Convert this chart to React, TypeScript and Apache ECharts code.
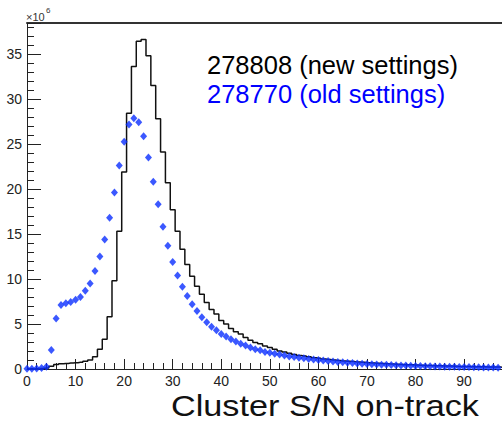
import React, { useEffect, useRef } from "react";
import * as echarts from "echarts";

// Bin contents (x10^6), bins of width 1 centred on 0, 1, 2, ... 98
const newSettings = [
  0.02, 0.02, 0.03, 0.05, 0.12, 0.3, 0.5, 0.58, 0.62, 0.66,
  0.7, 0.75, 0.85, 1.0, 1.35, 2.2, 3.3, 5.8, 9.8, 15.3,
  21.9, 28.4, 33.6, 36.4, 36.6, 34.8, 31.5, 27.8, 24.1, 20.7,
  17.7, 15.3, 13.3, 11.6, 10.3, 9.2, 8.3, 7.4, 6.6, 6.1,
  5.4, 5.0, 4.5, 4.15, 3.9, 3.5, 3.2, 2.95, 2.8, 2.55,
  2.4, 2.2, 2.0, 1.9, 1.75, 1.6, 1.5, 1.45, 1.35, 1.25,
  1.2, 1.1, 1.05, 1.0, 0.95, 0.9, 0.86, 0.82, 0.78, 0.74,
  0.7, 0.67, 0.64, 0.61, 0.58, 0.55, 0.53, 0.5, 0.48, 0.46,
  0.44, 0.42, 0.4, 0.38, 0.36, 0.35, 0.33, 0.32, 0.3, 0.29,
  0.28, 0.27, 0.26, 0.25, 0.24, 0.23, 0.22, 0.21, 0.2,
];

const oldSettings = [
  0.02, 0.03, 0.05, 0.1, 0.25, 2.1, 5.6, 7.1, 7.3, 7.45,
  7.7, 8.0, 8.7, 9.5, 10.9, 12.5, 14.4, 16.8, 19.6, 22.6,
  25.25, 27.15, 27.85, 27.4, 25.85, 23.5, 20.8, 18.3, 15.8, 13.7,
  11.9, 10.4, 9.15, 8.1, 7.2, 6.45, 5.75, 5.2, 4.7, 4.3,
  3.9, 3.6, 3.3, 3.05, 2.8, 2.6, 2.4, 2.2, 2.07, 1.9,
  1.8, 1.7, 1.6, 1.5, 1.4, 1.33, 1.25, 1.2, 1.1, 1.05,
  1.0, 0.95, 0.9, 0.82, 0.78, 0.74, 0.7, 0.66, 0.62, 0.59,
  0.56, 0.53, 0.5, 0.48, 0.46, 0.44, 0.42, 0.4, 0.38, 0.36,
  0.34, 0.33, 0.31, 0.3, 0.29, 0.27, 0.26, 0.25, 0.24, 0.23,
  0.22, 0.21, 0.2, 0.19, 0.18, 0.17, 0.16, 0.15, 0.14,
];

const legendLabels = ["278808 (new settings)", "278770 (old settings)"];
const xTitle = "Cluster S/N on-track";
const yMultiplier = "×10";
const yExponent = "6";

const X_MAX = 97.8;
const Y_MAX = 38.44;
const NUM_FONT = '"Liberation Sans Narrow", "Liberation Sans", Arial, sans-serif';
const FONT = '"Liberation Sans", Arial, sans-serif';

export default function App() {
  const ref = useRef<HTMLDivElement>(null);

  useEffect(() => {
    if (!ref.current) return;
    const chart = echarts.init(ref.current, null, { renderer: "svg" });
    const axisColor = "#222";
    chart.setOption({
      animation: false,
      backgroundColor: "#fff",
      grid: { left: 27, right: 0, top: 23, bottom: 54 },
      xAxis: [
        {
          type: "value",
          min: 0,
          max: X_MAX,
          interval: 10,
          position: "bottom",
          axisLine: { show: true, onZero: false, lineStyle: { color: axisColor, width: 1 } },
          axisTick: { show: true, inside: true, length: 10, lineStyle: { color: axisColor } },
          minorTick: { show: true, splitNumber: 5, length: 6, lineStyle: { color: axisColor } },
          axisLabel: {
            margin: 5,
            fontSize: 14,
            color: axisColor,
            fontFamily: NUM_FONT,
            showMaxLabel: false,
          },
          splitLine: { show: false },
        },
        {
          type: "value",
          min: 0,
          max: X_MAX,
          position: "top",
          axisLine: { show: true, onZero: false, lineStyle: { color: "#333", width: 2 } },
          axisTick: { show: false },
          axisLabel: { show: false },
          splitLine: { show: false },
        },
      ],
      yAxis: {
        type: "value",
        min: 0,
        max: Y_MAX,
        interval: 5,
        axisLine: { show: true, onZero: false, lineStyle: { color: axisColor, width: 1 } },
        axisTick: { show: true, inside: true, length: 14, lineStyle: { color: axisColor } },
        minorTick: { show: true, splitNumber: 5, length: 7, lineStyle: { color: axisColor } },
        axisLabel: {
          margin: 5,
          fontSize: 14,
          color: axisColor,
          fontFamily: NUM_FONT,
          showMaxLabel: false,
        },
        splitLine: { show: false },
      },
      series: [
        {
          type: "line",
          name: legendLabels[0],
          step: "middle",
          showSymbol: false,
          data: newSettings.map((v, i) => [i, v]),
          lineStyle: { color: "#111", width: 1.5 },
          z: 3,
        },
        {
          type: "scatter",
          name: legendLabels[1],
          data: oldSettings.map((v, i) => [i, v]),
          symbol: "diamond",
          symbolSize: [7, 8],
          itemStyle: { color: "#0a2eff" },
          z: 4,
        },
      ],
      graphic: [
        {
          type: "text",
          left: 26,
          top: 11,
          style: { text: yMultiplier, fontSize: 11, fill: "#333", fontFamily: NUM_FONT },
        },
        {
          type: "text",
          left: 46,
          top: 6,
          style: { text: yExponent, fontSize: 8, fill: "#333", fontFamily: NUM_FONT },
        },
        {
          type: "text",
          left: 207,
          top: 52,
          style: { text: legendLabels[0], fontSize: 25.5, fill: "#000", fontFamily: FONT },
        },
        {
          type: "text",
          left: 207,
          top: 81,
          style: { text: legendLabels[1], fontSize: 25.5, fill: "#0000ff", fontFamily: FONT },
        },
        {
          type: "text",
          x: 325,
          y: 406,
          scaleX: 1.18,
          style: {
            text: xTitle,
            fontSize: 29,
            fill: "#111",
            fontFamily: FONT,
            align: "center",
            verticalAlign: "middle",
          },
        },
      ],
    });
    return () => chart.dispose();
  }, []);

  return <div ref={ref} style={{ width: 502, height: 423, position: "absolute", left: 0, top: 0 }} />;
}
